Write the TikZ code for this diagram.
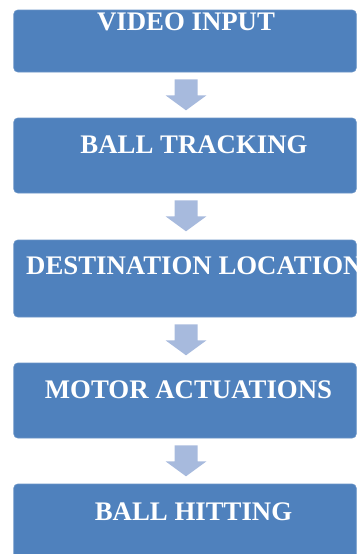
\documentclass[tikz,border=0pt]{standalone}
\usepackage{fontspec}
\setmainfont{Liberation Serif}
\usetikzlibrary{calc}
\definecolor{BoxBlue}{RGB}{79, 129, 189}
\definecolor{ArrowBlue}{RGB}{167, 186, 221}

\begin{document}
\begin{tikzpicture}[
        x=1pt, y=-1pt,
        stepbox/.style={rectangle, rounded corners=4pt, fill=BoxBlue, draw=BoxBlue!85!white, line width=0.6pt, minimum width=342.5pt, inner sep=0pt},
        boxtext/.style={anchor=base, inner sep=0pt, text=white, font=\fontsize{26.8}{28}\selectfont\bfseries},
        blockarrow/.style={fill=ArrowBlue, draw=none}
    ]
        \useasboundingbox (0,0) rectangle (357,554);

        % Boxes
        \node[stepbox, minimum height=62pt] (video) at (185,41) {};
        \node[stepbox, minimum height=75pt] (tracking) at (185,155.5) {};
        \node[stepbox, minimum height=77pt] (destination) at (185,278.5) {};
        \node[stepbox, minimum height=75pt] (motor) at (185,400.5) {};
        \node[stepbox, minimum height=75pt] (hitting) at (185,521.5) {};

        % Labels
        \node[boxtext] (videotxt) at (186,30) {VIDEO INPUT};
        \node[boxtext] (trackingtxt) at (194,153) {BALL TRACKING};
        \node[boxtext, anchor=base west] (destinationtxt) at (26,274) {DESTINATION LOCATION};
        \node[boxtext] (motortxt) at (188.5,398) {MOTOR ACTUATIONS};
        \node[boxtext] (hittingtxt) at (193.5,520) {BALL HITTING};

        % Arrows
        \foreach \a/\b in {video/tracking, tracking/destination, destination/motor, motor/hitting} {
            \coordinate (\a top) at ($(\a.south)+(1,7)$);
            \path[blockarrow] ($(\a top)+(-11.5,0)$) -- ($(\a top)+(11.5,0)$) -- ++(0,16) -- ++(9,0)
                -- ($(\a top)+(0,31)$) -- ($(\a top)+(-20.5,16)$) -- ++(9,0) -- cycle;
        }
\end{tikzpicture}
\end{document}
